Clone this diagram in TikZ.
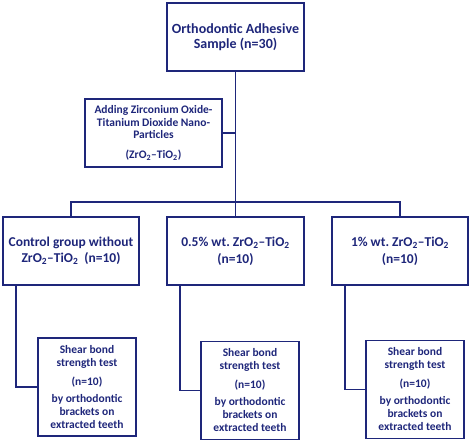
\documentclass[tikz,border=0pt]{standalone}
\usepackage{fontspec}
\setmainfont{Carlito}
\usetikzlibrary{positioning}
\definecolor{navy}{RGB}{30,38,122}
\begin{document}
\begin{tikzpicture}[x=1pt,y=1pt,
  box/.style={draw=navy,line width=1.8pt,rectangle,inner sep=0pt,align=center,text=navy,font=\bfseries},
  conn/.style={draw=navy,line width=1.8pt}]
\useasboundingbox (0,0) rectangle (472,-444);
\node[box,minimum width=137,minimum height=68,font=\bfseries\fontsize{14}{15.5}\selectfont] (top) at (235.5,-37) {Orthodontic Adhesive\\Sample (n=30)};
\node[box,minimum width=137,minimum height=68,font=\bfseries\fontsize{11.5}{12.5}\selectfont] (add) at (153.5,-133) {Adding Zirconium Oxide-\\Titanium Dioxide Nano-\\Particles\\[7pt](ZrO\textsubscript{2}–TiO\textsubscript{2})};
\node[box,minimum width=136,minimum height=68,font=\bfseries\fontsize{13.5}{16}\selectfont] (g1) at (71,-251) {Control group without\\ZrO\textsubscript{2}–TiO\textsubscript{2}\ \ (n=10)};
\node[box,minimum width=137,minimum height=68,font=\bfseries\fontsize{13.5}{17}\selectfont] (g2) at (235.5,-251) {0.5\% wt.\ ZrO\textsubscript{2}–TiO\textsubscript{2}\\(n=10)};
\node[box,minimum width=136,minimum height=68,font=\bfseries\fontsize{13.5}{17}\selectfont] (g3) at (400,-251) {1\% wt.\ ZrO\textsubscript{2}–TiO\textsubscript{2}\\(n=10)};
\tikzset{shear/.style={box,minimum width=98,minimum height=98,font=\bfseries\fontsize{11.5}{13}\selectfont}}
\node[shear] (s1) at (87,-387) {Shear bond\\strength test\\[6pt](n=10)\\[4pt]by orthodontic\\brackets on\\extracted teeth};
\node[shear] (s2) at (250,-390.5) {Shear bond\\strength test\\[6pt](n=10)\\[4pt]by orthodontic\\brackets on\\extracted teeth};
\node[shear] (s3) at (415,-389.5) {Shear bond\\strength test\\[6pt](n=10)\\[4pt]by orthodontic\\brackets on\\extracted teeth};
\coordinate (bar) at (235.5,-202);
\draw[conn] (top.south) -- (bar);
\draw[conn] (add.east) -- (add.east -| top.south);
\draw[conn] (g1.north) -- (g1.north |- bar) -- (g3.north |- bar) -- (g3.north);
\draw[conn] (g2.north) -- (bar);
\draw[conn] ([xshift=14pt]g1.south west) |- (s1.west);
\draw[conn] ([xshift=14pt]g2.south west) |- (s2.west);
\draw[conn] ([xshift=14pt]g3.south west) |- (s3.west);
\end{tikzpicture}
\end{document}
